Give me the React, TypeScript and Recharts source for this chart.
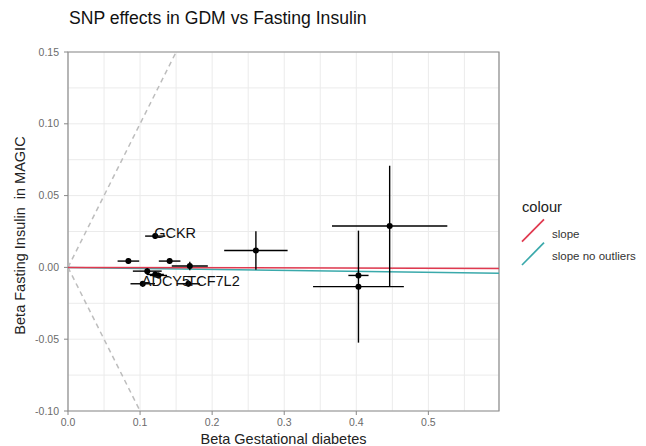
import React from 'react';
import {
  ScatterChart,
  Scatter,
  XAxis,
  YAxis,
  CartesianGrid,
  ErrorBar,
  ReferenceLine,
  ReferenceArea,
} from 'recharts';

// SNP effects
const betaGdm = [0.0838, 0.121, 0.141, 0.169, 0.2607, 0.110, 0.121, 0.1255, 0.1037, 0.167, 0.4463, 0.403, 0.403];
const betaFi = [0.0044, 0.0218, 0.0044, 0.001, 0.0118, -0.0026, -0.0049, -0.0056, -0.0114, -0.0114, 0.0288, -0.0056, -0.0134];
const seGdm = [0.015, 0.014, 0.015, 0.025, 0.044, 0.02, 0.012, 0.012, 0.017, 0.016, 0.08, 0.014, 0.063];
const seFi = [0.002, 0.002, 0.002, 0.003, 0.0134, 0.002, 0.002, 0.002, 0.002, 0.002, 0.042, 0.002, 0.039];
const snpLabels = ['', 'GCKR', '', '', '', '', '', '', 'ADCY5', 'TCF7L2', '', '', ''];

// major ticks carry labels, the in-between values are minor grid lines only
const xTicks = [0, 0.1, 0.2, 0.3, 0.4, 0.5];
const yTicks = [-0.1, -0.05, 0, 0.05, 0.1, 0.15];
const xGrid = [0, 0.05, 0.1, 0.15, 0.2, 0.25, 0.3, 0.35, 0.4, 0.45, 0.5, 0.55];
const yGrid = [-0.1, -0.075, -0.05, -0.025, 0, 0.025, 0.05, 0.075, 0.1, 0.125, 0.15];

const xMax = 0.598;
const slopeAll = -0.0012;
const slopeNoOutliers = -0.0068;

const RED = '#e0394f';
const TEAL = '#3aa9ab';
const FONT = '"Liberation Sans", Arial, sans-serif';
const TICK_COLOR = '#6b6b6b';

const points = betaGdm.map((x, i) => ({
  x,
  y: betaFi[i],
  ex: seGdm[i],
  ey: seFi[i],
  label: snpLabels[i],
}));
const labelled = points.filter((p) => p.label);

const isMajor = (list: number[], v: number) => list.some((t) => Math.abs(t - v) < 1e-9);

const XTick = (p: any) => {
  const v = p.payload.value;
  if (!isMajor(xTicks, v)) return <g />;
  return (
    <g>
      <line x1={p.x} x2={p.x} y1={p.y - 8} y2={p.y - 4} stroke="#888" />
      <text x={p.x} y={p.y} dy="0.71em" textAnchor="middle" fontSize={10.5} fill={TICK_COLOR} fontFamily={FONT}>
        {v.toFixed(1)}
      </text>
    </g>
  );
};

const YTick = (p: any) => {
  const v = p.payload.value;
  if (!isMajor(yTicks, v)) return <g />;
  return (
    <g>
      <line x1={p.x + 5} x2={p.x + 9} y1={p.y} y2={p.y} stroke="#888" />
      <text x={p.x} y={p.y} dy="0.35em" textAnchor="end" fontSize={10.5} fill={TICK_COLOR} fontFamily={FONT}>
        {v.toFixed(2)}
      </text>
    </g>
  );
};

const Dot = (p: any) => <circle cx={p.cx} cy={p.cy} r={3} fill="#000" />;

const SnpLabel = (p: any) => (
  <text x={p.cx - 1} y={p.cy + 2} fontSize={14.5} fontFamily={FONT} fill="#111">
    {p.payload.label}
  </text>
);

export default function App() {
  return (
    <div style={{ position: 'relative', width: 630, height: 438, fontFamily: FONT }}>
      <div
        style={{
          position: 'absolute',
          left: 61,
          top: 0,
          fontSize: 17.6,
          lineHeight: '20px',
          color: '#111',
          whiteSpace: 'nowrap',
        }}
      >
        SNP effects in GDM vs Fasting Insulin
      </div>
      <ScatterChart width={630} height={438} margin={{ top: 44, right: 139, bottom: 0, left: 0 }}>
        <CartesianGrid stroke="#ebebeb" strokeWidth={1} />
        <XAxis
          type="number"
          dataKey="x"
          domain={[0, xMax]}
          ticks={xGrid}
          interval={0}
          allowDataOverflow
          height={35}
          axisLine={false}
          tickLine={false}
          tickSize={3}
          tickMargin={5}
          tick={<XTick />}
          label={{
            value: 'Beta Gestational diabetes',
            position: 'insideBottom',
            offset: 2,
            fontSize: 14.5,
            fill: '#222',
            fontFamily: FONT,
          }}
        />
        <YAxis
          type="number"
          dataKey="y"
          domain={[-0.1, 0.15]}
          ticks={yGrid}
          interval={0}
          allowDataOverflow
          width={60}
          axisLine={false}
          tickLine={false}
          tickSize={4}
          tickMargin={5}
          tick={<YTick />}
          label={(props: any) => {
            const vb = props.viewBox;
            const cx = vb.x + 12;
            const cy = vb.y + vb.height / 2 + 4;
            return (
              <text
                x={cx}
                y={cy}
                transform={`rotate(-90 ${cx} ${cy})`}
                textAnchor="middle"
                dominantBaseline="central"
                fontSize={14.5}
                fill="#222"
                fontFamily={FONT}
                style={{ whiteSpace: 'pre' }}
              >
                {'Beta Fasting Insulin  in MAGIC'}
              </text>
            );
          }}
        />
        <ReferenceLine
          segment={[{ x: 0, y: 0 }, { x: 0.15, y: 0.15 }]}
          stroke="#bdbdbd"
          strokeWidth={1.5}
          strokeDasharray="5 4"
        />
        <ReferenceLine
          segment={[{ x: 0, y: 0 }, { x: 0.1, y: -0.1 }]}
          stroke="#bdbdbd"
          strokeWidth={1.5}
          strokeDasharray="5 4"
        />
        <ReferenceLine
          segment={[{ x: 0, y: 0 }, { x: xMax, y: slopeNoOutliers * xMax }]}
          stroke={TEAL}
          strokeWidth={1.5}
        />
        <ReferenceLine
          segment={[{ x: 0, y: 0 }, { x: xMax, y: slopeAll * xMax }]}
          stroke={RED}
          strokeWidth={1.5}
        />
        <Scatter data={points} shape={Dot} isAnimationActive={false}>
          <ErrorBar dataKey="ex" direction="x" width={0} stroke="#000" strokeWidth={1.4} />
          <ErrorBar dataKey="ey" direction="y" width={0} stroke="#000" strokeWidth={1.4} />
        </Scatter>
        <Scatter data={labelled} shape={SnpLabel} isAnimationActive={false} />
        <ReferenceArea
          x1={0}
          x2={xMax}
          y1={-0.1}
          y2={0.15}
          fill="none"
          fillOpacity={0}
          stroke="#8c8c8c"
          strokeWidth={1.2}
          ifOverflow="visible"
        />
      </ScatterChart>
      <svg
        width={126}
        height={76}
        style={{ position: 'absolute', left: 512, top: 190, fontFamily: FONT }}
      >
        <text x={2} y={14} fontSize={14.7} fill="#222">colour</text>
        <line x1={2} y1={43.7} x2={24} y2={21.3} stroke={RED} strokeWidth={1.7} />
        <line x1={2} y1={67} x2={24} y2={44.7} stroke={TEAL} strokeWidth={1.7} />
        <text x={32} y={39.5} fontSize={11.5} fill="#333">slope</text>
        <text x={32} y={62} fontSize={11.5} fill="#333">slope no outliers</text>
      </svg>
    </div>
  );
}
